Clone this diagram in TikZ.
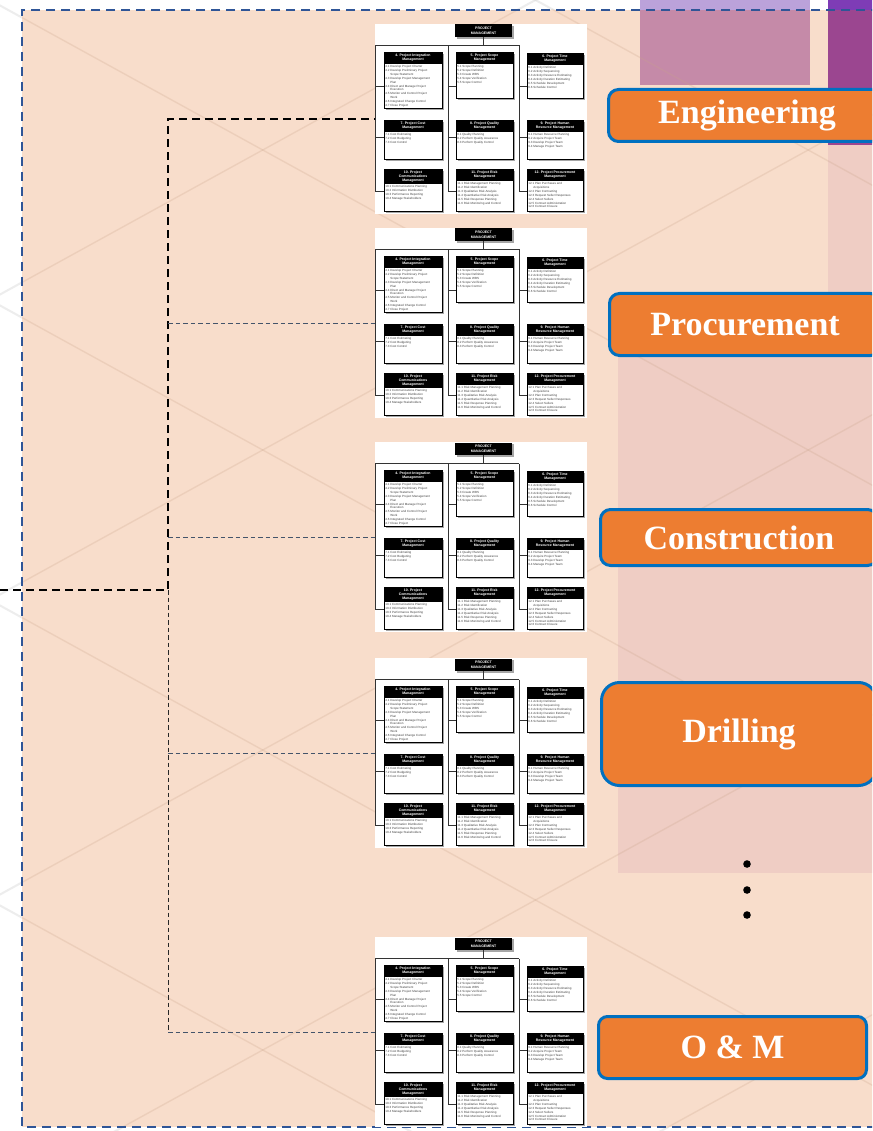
\documentclass[tikz,border=0pt]{standalone}
\usepackage{fontspec}
\setmainfont{Liberation Serif}
\newfontfamily\thumbfont{Liberation Sans}
\definecolor{peach}{HTML}{F8DDCB}
\definecolor{pinkr}{HTML}{EFCDC4}
\definecolor{lav}{HTML}{BBA2DA}
\definecolor{mauve}{HTML}{C58AA8}
\definecolor{dpurpT}{HTML}{7E3CB6}
\definecolor{dpurp}{HTML}{9B4690}
\definecolor{frameblue}{HTML}{2F5597}
\definecolor{boxorange}{HTML}{ED7D31}
\definecolor{boxblue}{HTML}{0070C0}
\definecolor{connblue}{HTML}{44546A}
\definecolor{bgtan}{HTML}{C9A48A}
\newcommand\hdrf{\thumbfont\bfseries\fontsize{3.5}{4.1}\selectfont}
\newcommand\bodyf{\thumbfont\fontsize{3.0}{3.95}\selectfont}
\newcommand\ind{\hspace*{5pt}}
\newcommand\pmbox[8]{%
  \fill[pmshadow] (#2+1.8,#3+1.8) rectangle (#4+1.8,#5+1.8);
  \draw[pmboxst] (#2,#3) rectangle (#4,#5);
  \fill[black] (#2,#3) rectangle (#4,#3+#6);
  \node[hdrtext] (-#1h) at ({(#2+#4)/2},{#3+#6/2}) {#7};
  \node[bodytext] (-#1b) at (#2+1.2,#3+#6+0.9) {#8};
}
\tikzset{
  pmshadow/.style={fill=black!35},
  pmboxst/.style={draw=black, line width=0.35pt, fill=white},
  pmline/.style={draw=black!80, line width=0.5pt},
  hdrtext/.style={text=white, font=\hdrf, align=center, inner sep=0pt},
  bodytext/.style={text=black!75, font=\bodyf, align=left, inner sep=0pt, anchor=north west},
  thumbframe/.style={anchor=north west, minimum width=212pt, minimum height=190pt, fill=white, inner sep=0pt, outer sep=0pt},
  phase/.style={fill=boxorange, draw=boxblue, line width=3pt, text=white, inner sep=0pt,
    font=\bfseries\fontsize{34}{40}\selectfont},
  thickdash/.style={draw=black, line width=2.6pt, dash pattern=on 8pt off 5pt},
  thindash/.style={draw=connblue, line width=1pt, dash pattern=on 4.5pt off 3pt},
  thinblack/.style={draw=black!85, line width=1pt, dash pattern=on 4.5pt off 3pt},
  bgl/.style={draw=bgtan, line width=1.4pt, opacity=0.25},
  bglw/.style={draw=black!20, line width=2pt, opacity=0.35},
  pmbok/.pic={
    \node[thumbframe] (-frame) at (0,0) {};
    \fill[pmshadow] (82,2) rectangle (139,15);
    \fill[black] (80,0.5) rectangle (137,13);
    \node[hdrtext] (-top) at (108.5,6.8) {PROJECT\\MANAGEMENT};
    \draw[pmline] (108.5,13) -- (108.5,21.5);
    \draw[pmline] (0,21.5) -- (144,21.5);
    \draw[pmline] (0.3,21.5) -- (0.3,167) (73,21.5) -- (73,167) (144,21.5) -- (144,167);
    \foreach \yy in {62,113,167}{
      \draw[pmline] (0,\yy) -- (9,\yy) (73,\yy) -- (81,\yy) (144,\yy) -- (152,\yy);
    }
    \pmbox{a}{9}{28}{67}{84}{12}{4. Project Integration\\Management}
      {4.1 Develop Project Charter\\4.2 Develop Preliminary Project\\\ind Scope Statement\\4.3 Develop Project Management\\\ind Plan\\4.4 Direct and Manage Project\\\ind Execution\\4.5 Monitor and Control Project\\\ind Work\\4.6 Integrated Change Control\\4.7 Close Project}
    \pmbox{b}{81}{28}{138}{74}{12}{5. Project Scope\\Management}
      {5.1 Scope Planning\\5.2 Scope Definition\\5.3 Create WBS\\5.4 Scope Verification\\5.5 Scope Control}
    \pmbox{c}{152}{29}{208}{74}{12}{6. Project Time\\Management}
      {6.1 Activity Definition\\6.2 Activity Sequencing\\6.3 Activity Resource Estimating\\6.4 Activity Duration Estimating\\6.5 Schedule Development\\6.6 Schedule Control}
    \pmbox{d}{9}{96}{67}{135}{12}{7. Project Cost\\Management}
      {7.1 Cost Estimating\\7.2 Cost Budgeting\\7.3 Cost Control}
    \pmbox{e}{81}{96}{138}{135}{12}{8. Project Quality\\Management}
      {8.1 Quality Planning\\8.2 Perform Quality Assurance\\8.3 Perform Quality Control}
    \pmbox{f}{152}{96}{208}{135}{12}{9. Project Human\\Resource Management}
      {9.1 Human Resource Planning\\9.2 Acquire Project Team\\9.3 Develop Project Team\\9.4 Manage Project Team}
    \pmbox{g}{9}{145}{67}{187}{15}{10. Project\\Communications\\Management}
      {10.1 Communications Planning\\10.2 Information Distribution\\10.3 Performance Reporting\\10.4 Manage Stakeholders}
    \pmbox{h}{81}{145}{138}{187}{12}{11. Project Risk\\Management}
      {11.1 Risk Management Planning\\11.2 Risk Identification\\11.3 Qualitative Risk Analysis\\11.4 Quantitative Risk Analysis\\11.5 Risk Response Planning\\11.6 Risk Monitoring and Control}
    \pmbox{i}{152}{145}{208}{187}{12}{12. Project Procurement\\Management}
      {12.1 Plan Purchases and\\\ind Acquisitions\\12.2 Plan Contracting\\12.3 Request Seller Responses\\12.4 Select Sellers\\12.5 Contract Administration\\12.6 Contract Closure}
  }
}
\begin{document}
\begin{tikzpicture}[x=1pt, y=-1pt]
\useasboundingbox (0,0) rectangle (872,1131);
\clip (0,0) rectangle (872,1131);
% background
\fill[white] (0,0) rectangle (872,1131);
\foreach \c in {-900,-600,...,1500}{ \draw[bglw] (-10,\c) -- (890,\c+495); }
\foreach \d in {-300,0,...,2400}{ \draw[bglw] (-10,\d) -- (890,\d-495); }
\fill[peach] (22,10) rectangle (880,1127);
\fill[lav] (640,0) rectangle (810,10);
\fill[mauve] (640,10) rectangle (810,85);
\fill[dpurpT] (828,0) rectangle (880,10);
\fill[dpurp] (828,10) rectangle (880,145);
\fill[pinkr] (828,145) rectangle (880,320);
\fill[pinkr] (618,320) rectangle (880,873);
\begin{scope}
  \clip (22,10) rectangle (880,1127);
  \foreach \c in {-900,-600,...,1500}{ \draw[bgl] (-10,\c) -- (890,\c+495); }
  \foreach \d in {-300,0,...,2400}{ \draw[bgl] (-10,\d) -- (890,\d-495); }
\end{scope}
\draw[frameblue, line width=2pt, dash pattern=on 9pt off 6pt] (880,10) -- (22,10) -- (22,1127) -- (880,1127);
% thumbnails
\pic (t1) at (375,24) {pmbok};
\pic (t2) at (375,228) {pmbok};
\pic (t3) at (375,442) {pmbok};
\pic (t4) at (375,658) {pmbok};
\pic (t5) at (375,937) {pmbok};
% phase boxes
\node[phase, minimum width=277pt, minimum height=52pt, rounded corners=10pt] (eng) at (747,115.5) {Engineering};
\node[phase, minimum width=271pt, minimum height=62pt, rounded corners=10pt] (proc) at (745,324.5) {Procurement};
\node[phase, minimum width=277pt, minimum height=56pt, rounded corners=10pt] (cons) at (739,537.5) {Construction};
\node[phase, minimum width=275pt, minimum height=103pt, rounded corners=18pt] (dril) at (739,734) {Drilling};
\node[phase, minimum width=268pt, minimum height=62pt, rounded corners=9pt] (om) at (732.5,1047.5) {O \& M};
% ellipsis dots
\foreach \yy in {864,890,915}{ \fill[black] (747,\yy) circle (3.8pt); }
% connectors
\coordinate (src) at (0,590);
\coordinate (j) at (168,590);
\draw[thickdash] (src) -- (j) |- (t1-frame.west);
\draw[thindash] (j |- t2-frame.west) -- (t2-frame.west);
\draw[thindash] (j |- t3-frame.west) -- (t3-frame.west);
\draw[thindash] (j |- t4-frame.west) -- (t4-frame.west);
\draw[thinblack] (j) -- (j |- t5-frame.west);
\draw[thindash] (j |- t5-frame.west) -- (t5-frame.west);
\end{tikzpicture}
\end{document}
